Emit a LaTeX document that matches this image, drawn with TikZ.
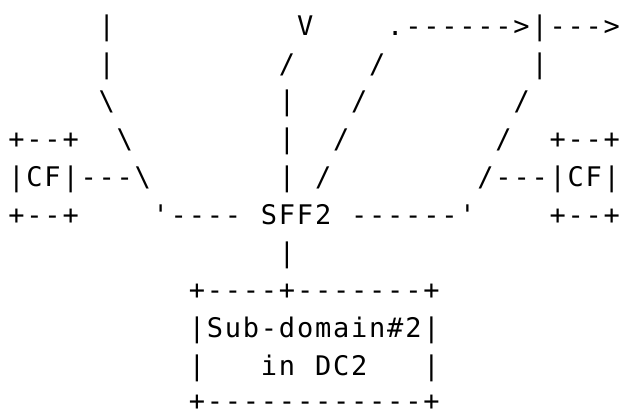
\documentclass[tikz,border=0pt]{standalone}
\usepackage{fontspec}
\setmonofont{DejaVu Sans Mono}
\newlength\cw
\setlength\cw{18.04bp}
\def\bs{\textbackslash}
\def\cell#1{\ifx#1_\hbox to\cw{}\else\hbox to\cw{\hss#1\hss}\fi}
\def\rowi#1{\ifx#1\relax\else\cell{#1}\expandafter\rowi\fi}
\def\row#1{\rowi#1\relax}
\begin{document}
\begin{tikzpicture}[x=1bp,y=-1bp,
  rowtext/.style={anchor=base west, inner sep=0pt, outer sep=0pt,
    font=\ttfamily\fontsize{27bp}{30bp}\selectfont}]
\useasboundingbox (0,0) rectangle (620,409);
\node[rowtext] (r1)  at (7.5,35.2)  {\row{_____|__________V____.------>|--->}};
\node[rowtext] (r2)  at (7.5,73.0)  {\row{_____|_________/____/________|}};
\node[rowtext] (r3)  at (7.5,110.8) {\row{_____\bs_________|___/________/}};
\node[rowtext] (r4)  at (7.5,148.6) {\row{+--+__\bs________|__/________/__+--+}};
\node[rowtext] (r5)  at (7.5,186.4) {\row{|CF|---\bs_______|_/________/---|CF|}};
\node[rowtext] (r6)  at (7.5,224.2) {\row{+--+____'----_SFF2_------'____+--+}};
\node[rowtext] (r7)  at (7.5,262.0) {\row{_______________|}};
\node[rowtext] (r8)  at (7.5,299.8) {\row{__________+----+-------+}};
\node[rowtext] (r9)  at (7.5,337.6) {\row{__________|Sub-domain\#2|}};
\node[rowtext] (r10) at (7.5,375.4) {\row{__________|___in_DC2___|}};
\node[rowtext] (r11) at (7.5,410.8) {\row{__________+------------+}};
\end{tikzpicture}
\end{document}
